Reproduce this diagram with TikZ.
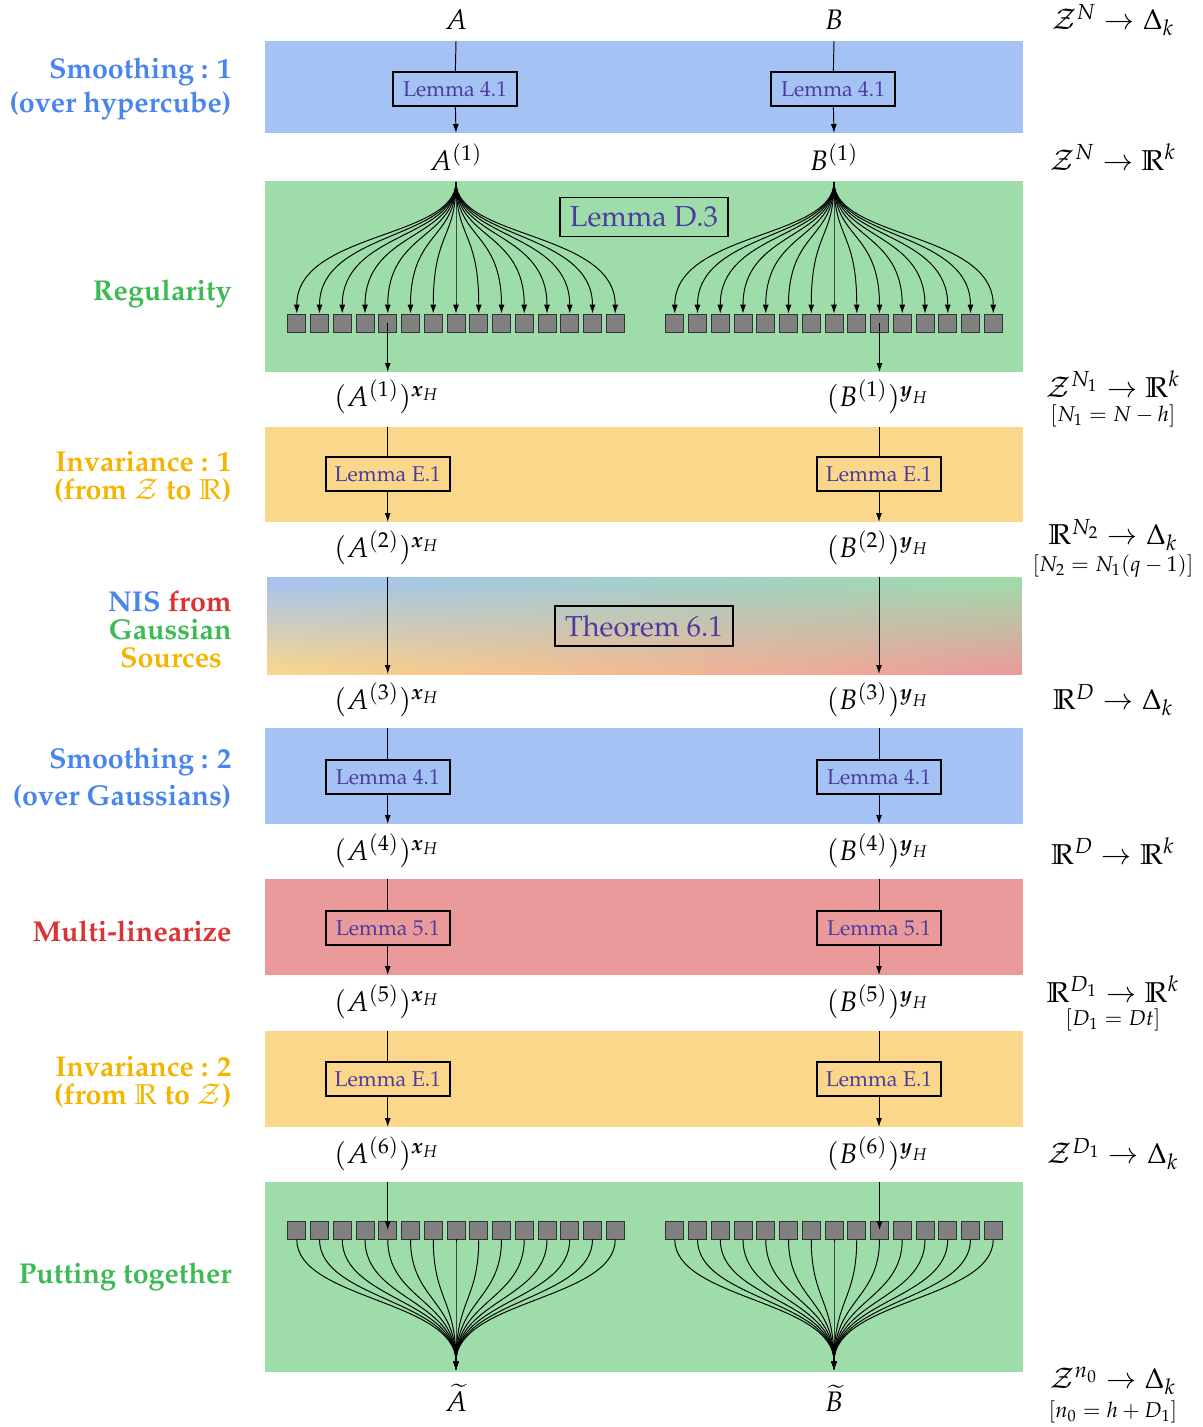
\documentclass[tikz,border=0pt]{standalone}
\usepackage[T1]{fontenc}
\usepackage{mathpazo}
\usepackage{amsmath,amssymb}
\usetikzlibrary{arrows.meta,calc}
\definecolor{gblue}{HTML}{4885ED}
\definecolor{ggreen}{HTML}{3CBA54}
\definecolor{gyellow}{HTML}{F4B400}
\definecolor{gred}{HTML}{DB3236}
\definecolor{bandblue}{HTML}{A4C2F4}
\definecolor{bandgreen}{HTML}{9EDDAA}
\definecolor{bandyellow}{HTML}{FAD78A}
\definecolor{bandred}{HTML}{EB9A9C}
\definecolor{lemmatext}{HTML}{4B3C9E}
\tikzset{
  arr/.style={-{Latex[length=4.2pt,width=2.8pt]}, line width=0.45pt},
  ln/.style={line width=0.45pt},
  lembox/.style={draw, line width=0.9pt, text=lemmatext, font=\fontsize{10}{12}\selectfont, minimum width=58pt, minimum height=15.9pt, inner sep=0pt},
  bigbox/.style={draw, line width=0.9pt, text=lemmatext, font=\fontsize{13.5}{16}\selectfont, inner sep=0pt},
  sq/.style={draw=black!80, fill=black!50, minimum size=8.4pt, inner sep=0pt, line width=0.4pt},
  mlab/.style={font=\fontsize{13.2}{15}\selectfont, inner sep=0pt},
  rlab/.style={font=\fontsize{13.4}{15}\selectfont, inner sep=0pt},
  rsub/.style={font=\fontsize{10}{12}\selectfont, inner sep=0pt},
  llab/.style={font=\fontsize{13.4}{14}\selectfont\bfseries, anchor=east, inner sep=0pt},
}
\begin{document}
\begin{tikzpicture}[x=0.4673pt,y=-0.4673pt]
\useasboundingbox (0,0) rectangle (1203,1427);
% bands
\fill[bandblue] (265,41) rectangle (1023,133);
\fill[bandgreen] (265,181) rectangle (1023,372);
\fill[bandyellow] (265,427) rectangle (1023,522);
\foreach \i in {0,...,59} {
  \pgfmathsetmacro\p{100-\i*1.6949}
  \pgfmathsetmacro\xa{267+\i*12.5667}
  \pgfmathsetmacro\xb{267+(\i+1)*12.5667+0.6}
  \shade[top color=bandblue!\p!bandgreen, bottom color=bandyellow!\p!bandred] (\xa,577) rectangle (\xb,674);
}
\fill[bandblue] (265,728) rectangle (1023,824);
\fill[bandred] (265,879) rectangle (1023,975);
\fill[bandyellow] (265,1031) rectangle (1023,1127);
\fill[bandgreen] (265,1182) rectangle (1023,1372);

% left labels
\node[llab, text=gblue] (s1a) at (232,72) {Smoothing : 1};
\node[llab, text=gblue] (s1b) at (232,106) {(over hypercube)};
\node[llab, text=ggreen] (reg) at (232,294) {Regularity};
\node[llab, text=gyellow] (inv1a) at (232,462) {Invariance : 1};
\node[llab, text=gyellow] (inv1b) at (232,491) {(from $\mathcal{Z}$ to $\mathbb{R}$)};
\node[llab] (nis1) at (232,601) {\textcolor{gblue}{NIS} \textcolor{gred}{from}};
\node[llab, text=ggreen] (nis2) at (232,630) {Gaussian};
\node[llab, anchor=center, text=gyellow] (nis3) at (171,658) {Sources};
\node[llab, text=gblue] (s2a) at (232,762) {Smoothing : 2};
\node[llab, text=gblue] (s2b) at (232,797) {(over Gaussians)};
\node[llab, text=gred] (ml) at (232,931) {Multi-linearize};
\node[llab, text=gyellow] (inv2a) at (232,1067) {Invariance : 2};
\node[llab, text=gyellow] (inv2b) at (232,1096) {(from $\mathbb{R}$ to $\mathcal{Z}$)};
\node[llab, text=ggreen] (put) at (232,1277) {Putting together};

% right labels
\node[rlab] (r0) at (1113,20) {$\mathcal{Z}^N \to \Delta_k$};
\node[rlab] (r1) at (1113,157) {$\mathcal{Z}^N \to \mathbb{R}^k$};
\node[rlab] (r2) at (1113,384) {$\mathcal{Z}^{N_1} \to \mathbb{R}^k$};
\node[rsub] (r2s) at (1113,416) {$[N_1 = N - h]$};
\node[rlab] (r3) at (1113,535) {$\mathbb{R}^{N_2} \to \Delta_k$};
\node[rsub] (r3s) at (1113,566) {$[N_2 = N_1(q-1)]$};
\node[rlab] (r4) at (1113,700) {$\mathbb{R}^D \to \Delta_k$};
\node[rlab] (r5) at (1113,851) {$\mathbb{R}^D \to \mathbb{R}^k$};
\node[rlab] (r6) at (1113,989) {$\mathbb{R}^{D_1} \to \mathbb{R}^k$};
\node[rsub] (r6s) at (1113,1020) {$[D_1 = Dt]$};
\node[rlab] (r7) at (1113,1154) {$\mathcal{Z}^{D_1} \to \Delta_k$};
\node[rlab] (r8) at (1113,1381) {$\mathcal{Z}^{n_0} \to \Delta_k$};
\node[rsub] (r8s) at (1113,1412) {$[n_0 = h + D_1]$};

% row 0/1 labels
\node[mlab] (A0) at (456,20) {$A$};
\node[mlab] (B0) at (834,20) {$B$};
\node[mlab] (A1) at (456,157) {$A^{(1)}$};
\node[mlab] (B1) at (834,157) {$B^{(1)}$};
% band 1
\node[lembox] (L1a) at (455,89) {Lemma 4.1};
\node[lembox] (L1b) at (833,89) {Lemma 4.1};
\coordinate (t1a) at (456,41); \coordinate (b1a) at (456,133);
\coordinate (t1b) at (834,41); \coordinate (b1b) at (834,133);
\draw[ln] (t1a) -- (L1a); \draw[arr] (L1a) -- (b1a);
\draw[ln] (t1b) -- (L1b); \draw[arr] (L1b) -- (b1b);

% band 2: regularity fan
\node[bigbox, minimum width=78.5pt, minimum height=18.2pt] (LD3) at (644,217) {Lemma D.3};
\coordinate (fa) at (456,182);
\coordinate (fb) at (834,182);
\foreach \i in {0,...,14} {
  \node[sq] (sa\i) at ({296.75+\i*22.75},323) {};
  \node[sq] (sb\i) at ({674.75+\i*22.75},323) {};
}
\foreach \i in {0,...,14} {
  \draw[arr] (fa) .. controls ($(fa)+(0,57)$) and ($(sa\i.north)+(0,-82)$) .. (sa\i.north);
  \draw[arr] (fb) .. controls ($(fb)+(0,57)$) and ($(sb\i.north)+(0,-82)$) .. (sb\i.north);
}
\coordinate (b2a) at (387.75,372); \coordinate (b2b) at (879.5,372);
\draw[arr] (sa4.center) -- (b2a);
\draw[arr] (sb9.center) -- (b2b);

% row labels
\node[mlab] (A2) at (387,397) {$(A^{(1)})^{\boldsymbol{x}_H}$};
\node[mlab] (B2) at (878,397) {$(B^{(1)})^{\boldsymbol{y}_H}$};
\node[mlab] (A3) at (387,548) {$(A^{(2)})^{\boldsymbol{x}_H}$};
\node[mlab] (B3) at (878,548) {$(B^{(2)})^{\boldsymbol{y}_H}$};
\node[mlab] (A4) at (387,700) {$(A^{(3)})^{\boldsymbol{x}_H}$};
\node[mlab] (B4) at (878,700) {$(B^{(3)})^{\boldsymbol{y}_H}$};
\node[mlab] (A5) at (387,851) {$(A^{(4)})^{\boldsymbol{x}_H}$};
\node[mlab] (B5) at (878,851) {$(B^{(4)})^{\boldsymbol{y}_H}$};
\node[mlab] (A6) at (387,1002) {$(A^{(5)})^{\boldsymbol{x}_H}$};
\node[mlab] (B6) at (878,1002) {$(B^{(5)})^{\boldsymbol{y}_H}$};
\node[mlab] (A7) at (387,1154) {$(A^{(6)})^{\boldsymbol{x}_H}$};
\node[mlab] (B7) at (878,1154) {$(B^{(6)})^{\boldsymbol{y}_H}$};

% band 3
\node[lembox] (L3a) at (387.75,474) {Lemma E.1};
\node[lembox] (L3b) at (879,474) {Lemma E.1};
\coordinate (t3a) at (387.75,427); \coordinate (b3a) at (387.75,522);
\coordinate (t3b) at (879,427); \coordinate (b3b) at (879,522);
\draw[ln] (t3a) -- (L3a); \draw[arr] (L3a) -- (b3a);
\draw[ln] (t3b) -- (L3b); \draw[arr] (L3b) -- (b3b);

% band 4
\node[bigbox, minimum width=83.6pt, minimum height=19.1pt] (T61) at (644,626) {Theorem 6.1};
\coordinate (t4a) at (387.75,577); \coordinate (b4a) at (387.75,674);
\coordinate (t4b) at (879,577); \coordinate (b4b) at (879,674);
\draw[arr] (t4a) -- (b4a);
\draw[arr] (t4b) -- (b4b);

% band 5
\node[lembox] (L5a) at (387.75,777) {Lemma 4.1};
\node[lembox] (L5b) at (879,777) {Lemma 4.1};
\coordinate (t5a) at (387.75,728); \coordinate (b5a) at (387.75,824);
\coordinate (t5b) at (879,728); \coordinate (b5b) at (879,824);
\draw[ln] (t5a) -- (L5a); \draw[arr] (L5a) -- (b5a);
\draw[ln] (t5b) -- (L5b); \draw[arr] (L5b) -- (b5b);

% band 6
\node[lembox] (L6a) at (387.75,928) {Lemma 5.1};
\node[lembox] (L6b) at (879,928) {Lemma 5.1};
\coordinate (t6a) at (387.75,879); \coordinate (b6a) at (387.75,975);
\coordinate (t6b) at (879,879); \coordinate (b6b) at (879,975);
\draw[ln] (t6a) -- (L6a); \draw[arr] (L6a) -- (b6a);
\draw[ln] (t6b) -- (L6b); \draw[arr] (L6b) -- (b6b);

% band 7
\node[lembox] (L7a) at (387.75,1079) {Lemma E.1};
\node[lembox] (L7b) at (879,1079) {Lemma E.1};
\coordinate (t7a) at (387.75,1031); \coordinate (b7a) at (387.75,1127);
\coordinate (t7b) at (879,1031); \coordinate (b7b) at (879,1127);
\draw[ln] (t7a) -- (L7a); \draw[arr] (L7a) -- (b7a);
\draw[ln] (t7b) -- (L7b); \draw[arr] (L7b) -- (b7b);

% band 8: putting together
\foreach \i in {0,...,14} {
  \node[sq] (ca\i) at ({296.75+\i*22.75},1230) {};
  \node[sq] (cb\i) at ({674.75+\i*22.75},1230) {};
}
\coordinate (ga) at (456,1370);
\coordinate (gb) at (834,1370);
\foreach \i in {0,...,14} {
  \draw[arr] (ca\i.south) .. controls ($(ca\i.south)+(0,60)$) and ($(ga)+(0,-70)$) .. (ga);
  \draw[arr] (cb\i.south) .. controls ($(cb\i.south)+(0,60)$) and ($(gb)+(0,-70)$) .. (gb);
}
\coordinate (t8a) at (387.75,1182); \coordinate (t8b) at (879.5,1182);
\draw[arr] (t8a) -- (ca4.center);
\draw[arr] (t8b) -- (cb9.center);

\node[mlab] (At) at (456,1398) {$\widetilde{A}$};
\node[mlab] (Bt) at (834,1398) {$\widetilde{B}$};
\end{tikzpicture}
\end{document}
